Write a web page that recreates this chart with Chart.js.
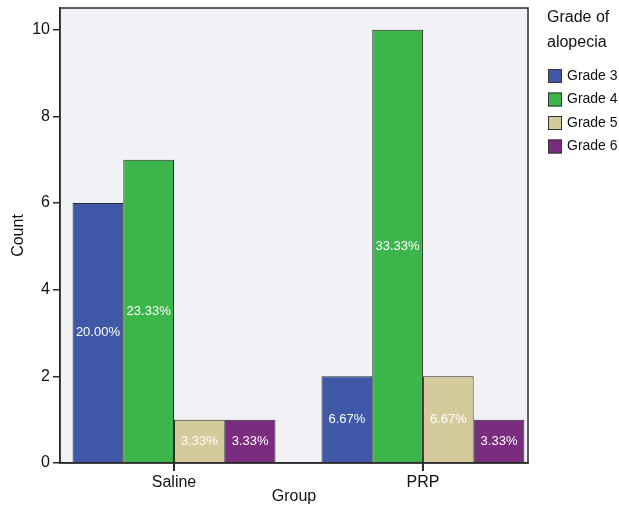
<!DOCTYPE html>
<html>
<head>
<meta charset="utf-8">
<script src="https://cdn.jsdelivr.net/npm/chart.js@4"></script>
<style>
  html, body { margin: 0; padding: 0; background: #fff; }
  #wrap { width: 619px; height: 510px; }
</style>
</head>
<body>
<div id="wrap"><canvas id="grafico" width="619" height="510"></canvas></div>
<script>
// datos
const grupos = ["Saline", "PRP"];
const grados = ["Grade 3", "Grade 4", "Grade 5", "Grade 6"];
const grado3 = [6, 2];
const grado4 = [7, 10];
const grado5 = [1, 2];
const grado6 = [1, 1];
const totalPacientes = 30;
const ticksY = [0, 2, 4, 6, 8, 10];
const colores = ["#3f58a7", "#3cb54b", "#d5ca9b", "#7a2c7e"];

const fuente = "'Liberation Sans', Arial, sans-serif";

// fondo, borde del area de trazado y marcas del eje x
const marcoPlugin = {
  id: "marco",
  beforeDraw(chart) {
    const { ctx, chartArea: a } = chart;
    ctx.save();
    ctx.fillStyle = "#f1f2f5";
    ctx.fillRect(a.left, a.top, a.right - a.left, a.bottom - a.top);
    ctx.restore();
  },
  afterDraw(chart) {
    const { ctx, chartArea: a } = chart;
    ctx.save();
    ctx.strokeStyle = "#2b2b2b";
    ctx.lineWidth = 1.5;
    ctx.strokeRect(a.left, a.top, a.right - a.left, a.bottom - a.top);
    const sx = chart.scales.x;
    ctx.fillStyle = "#2b2b2b";
    grupos.forEach((g, j) => {
      const px = sx.getPixelForValue(j);
      ctx.fillRect(px - 1, a.bottom, 2, 8);
    });
    ctx.restore();
  }
};

// porcentajes dentro de cada barra
const etiquetasPlugin = {
  id: "etiquetas",
  afterDatasetsDraw(chart) {
    const ctx = chart.ctx;
    ctx.save();
    ctx.font = "13px " + fuente;
    ctx.fillStyle = "#ffffff";
    ctx.textAlign = "center";
    ctx.textBaseline = "middle";
    chart.data.datasets.forEach((ds, i) => {
      const meta = chart.getDatasetMeta(i);
      meta.data.forEach((bar, j) => {
        const pct = (ds.data[j].y / totalPacientes * 100).toFixed(2) + "%";
        ctx.fillText(pct, bar.x, (bar.y + bar.base) / 2);
      });
    });
    ctx.restore();
  }
};

// leyenda a la derecha
const leyendaPlugin = {
  id: "leyenda",
  afterDraw(chart) {
    const ctx = chart.ctx;
    ctx.save();
    ctx.fillStyle = "#111";
    ctx.textAlign = "left";
    ctx.textBaseline = "middle";
    ctx.font = "16px " + fuente;
    ctx.fillText("Grade of", 547, 18);
    ctx.fillText("alopecia", 547, 43);
    ctx.font = "14px " + fuente;
    chart.data.datasets.forEach((ds, i) => {
      const y = 76 + i * 23.5;
      ctx.fillStyle = ds.backgroundColor;
      ctx.fillRect(548, y - 7, 14, 14);
      ctx.strokeStyle = "#333";
      ctx.lineWidth = 1;
      ctx.strokeRect(548.5, y - 6.5, 13, 13);
      ctx.fillStyle = "#111";
      ctx.fillText(ds.label, 567, y);
    });
    ctx.restore();
  }
};

const datosSeries = [grado3, grado4, grado5, grado6];

const ctx = document.getElementById("grafico").getContext("2d");
const grafico = new Chart(ctx, {
  type: "bar",
  data: {
    datasets: grados.map((g, i) => ({
      label: g,
      data: datosSeries[i].map((v, j) => ({ x: j, y: v })),
      backgroundColor: colores[i],
      borderColor: "#2b2b2b",
      borderWidth: 1,
      barPercentage: 1,
      categoryPercentage: 0.815
    }))
  },
  options: {
    responsive: false,
    animation: false,
    layout: { padding: { top: 8, right: 91, left: 0, bottom: 0 } },
    plugins: {
      legend: { display: false },
      tooltip: { enabled: false }
    },
    scales: {
      x: {
        type: "linear",
        min: -0.458,
        max: 1.422,
        offset: false,
        afterFit: (s) => { s.height = 47; s.paddingLeft = 0; s.paddingRight = 0; },
        afterBuildTicks: (s) => { s.ticks = grupos.map((g, j) => ({ value: j })); },
        grid: { display: false, drawTicks: false, tickLength: 7 },
        border: { display: true, color: "#2b2b2b", width: 1.5 },
        ticks: {
          color: "#111",
          font: { family: fuente, size: 16 },
          padding: 10,
          callback: (v) => grupos[v]
        },
        title: {
          display: true,
          text: "Group",
          color: "#111",
          font: { family: fuente, size: 16 },
          padding: { top: 0, bottom: 4 }
        }
      },
      y: {
        min: 0,
        max: 10.5,
        afterFit: (s) => { s.width = 60; s.paddingTop = 0; s.paddingBottom = 0; },
        afterBuildTicks: (s) => { s.ticks = ticksY.map((v) => ({ value: v })); },
        grid: {
          drawOnChartArea: false,
          drawTicks: true,
          tickLength: 7,
          color: "#2b2b2b",
          lineWidth: 1.5
        },
        border: { display: true, color: "#2b2b2b", width: 1.5 },
        ticks: {
          color: "#111",
          font: { family: fuente, size: 16 },
          padding: 3
        },
        title: {
          display: true,
          text: "Count",
          color: "#111",
          font: { family: fuente, size: 16 },
          padding: { top: 9, bottom: 0 }
        }
      }
    }
  },
  plugins: [marcoPlugin, etiquetasPlugin, leyendaPlugin]
});
</script>
</body>
</html>
